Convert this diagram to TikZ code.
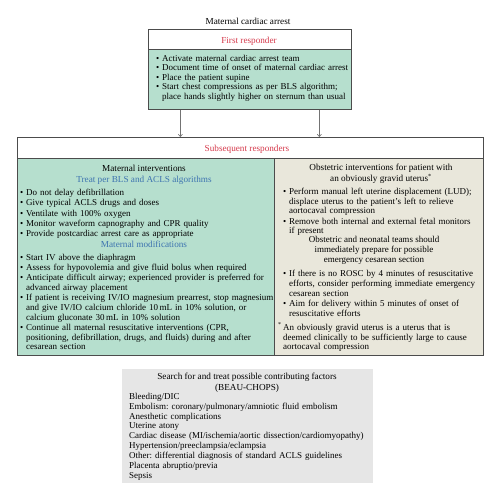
\documentclass[tikz,border=0pt]{standalone}
\usepackage{fontspec}
\setmainfont{Liberation Serif}
\usetikzlibrary{positioning,arrows.meta}

\definecolor{mint}{RGB}{182,223,206}
\definecolor{sand}{RGB}{233,231,219}
\definecolor{fog}{RGB}{230,230,230}
\definecolor{alarm}{RGB}{214,58,76}
\definecolor{steel}{RGB}{62,116,176}

% bullet item with hanging indent
\newlength{\itmgap}
\setlength{\itmgap}{0.3pt}
\newcommand{\itm}[1]{\par\hangindent=6pt\hangafter=1\noindent\makebox[6pt][l]{\textbullet}#1\par\vspace{\itmgap}}

\begin{document}
\frenchspacing
\begin{tikzpicture}[
	x=1pt, y=-1pt,
	box/.style={draw=black!70, line width=0.7pt, anchor=north west, inner sep=0pt},
	txt/.style={inner sep=0pt, font=\fontsize{9}{9.8}\selectfont},
	list/.style={txt, anchor=north west, align=left, text width=#1},
	head/.style={inner sep=0pt, anchor=north, align=center, font=\fontsize{9}{9.7}\selectfont},
	title/.style={inner sep=0pt, anchor=base, font=\fontsize{9.2}{10}\selectfont},
	connect/.style={-{To[length=3pt,width=4.5pt]}, draw=black!55, line width=0.6pt}
	]
	\useasboundingbox (0,0) rectangle (499,500);

	%-----------------------
	% Customizable heights
	%-----------------------
	\def\hfirst{29}   % first responder box
	\def\hsub{137}    % subsequent responders box
	\def\hfog{369}    % contributing factors box

	%-----------------------
	% First responder
	%-----------------------
	\node[title] (arrest) at (248,25) {Maternal cardiac arrest};
	\node[box, fill=white, minimum width=203pt, minimum height=20pt] (firsthead) at (148,\hfirst) {};
	\node[title, text=alarm] (firsttitle) at (249,44) {First responder};
	\node[box, fill=mint, minimum width=203pt, minimum height=60pt] (firstbody) at (148,\hfirst+20) {};
	\node[list=200pt, font=\fontsize{9}{9.5}\selectfont] (firstlist) at (156,51.5) {\setlength{\itmgap}{0pt}%
		\itm{Activate maternal cardiac arrest team}
		\itm{Document time of onset of maternal cardiac arrest}
		\itm{Place the patient supine}
		\itm{Start chest compressions as per BLS algorithm;\newline place hands slightly higher on sternum than usual}};

	%-----------------------
	% Subsequent responders
	%-----------------------
	\node[box, fill=white, minimum width=466pt, minimum height=21pt] (subhead) at (17,\hsub) {};
	\node[title, text=alarm] (subtitle) at (247,151.5) {Subsequent responders};
	\node[box, fill=mint, minimum width=257pt, minimum height=197pt] (maternal) at (17,\hsub+21) {};
	\node[box, fill=sand, minimum width=209pt, minimum height=197pt] (obstetric) at (274,\hsub+21) {};

	% left column: maternal interventions
	\node[title] (matitle) at (144,171) {Maternal interventions};
	\node[title, text=steel] (acls) at (144,182) {Treat per BLS and ACLS algorithms};
	\node[list=260pt] (acllist) at (20,185.8) {%
		\itm{Do not delay defibrillation}
		\itm{Give typical ACLS drugs and doses}
		\itm{Ventilate with 100\% oxygen}
		\itm{Monitor waveform capnography and CPR quality}
		\itm{Provide postcardiac arrest care as appropriate}};
	\node[title, text=steel] (modif) at (144,247.5) {Maternal modifications};
	\node[list=260pt] (modlist) at (20,250.5) {%
		\itm{Start IV above the diaphragm}
		\itm{Assess for hypovolemia and give fluid bolus when required}
		\itm{Anticipate difficult airway; experienced provider is preferred for\newline advanced airway placement}
		\itm{If patient is receiving IV/IO magnesium prearrest, stop magnesium\newline and give IV/IO calcium chloride 10\,mL in 10\% solution, or\newline calcium gluconate 30\,mL in 10\% solution}
		\itm{Continue all maternal resuscitative interventions (CPR,\newline positioning, defibrillation, drugs, and fluids) during and after\newline cesarean section}};

	% right column: obstetric interventions
	\node[head, font=\fontsize{9.2}{9.6}\selectfont] (obtitle) at (381,164.3) {Obstetric interventions for patient with\\an obviously gravid uterus\textsuperscript{*}};
	\node[list=210pt] (obslist) at (283,184.3) {%
		\itm{Perform manual left uterine displacement (LUD);\newline displace uterus to the patient’s left to relieve\newline aortocaval compression}
		\itm{Remove both internal and external fetal monitors\newline if present}};
	\node[head, font=\fontsize{9}{9.8}\selectfont] (teams) at (374,236) {Obstetric and neonatal teams should\\immediately prepare for possible\\emergency cesarean section};
	\node[list=210pt] (roslist) at (283,266.8) {%
		\itm{If there is no ROSC by 4 minutes of resuscitative\newline efforts, consider performing immediate emergency\newline cesarean section}
		\itm{Aim for delivery within 5 minutes of onset of\newline resuscitative efforts}};
	\node[list=210pt, font=\fontsize{9}{9.6}\selectfont] (gravid) at (283,322.8) {%
		\llap{\textsuperscript{*}\,}An obviously gravid uterus is a uterus that is\\deemed clinically to be sufficiently large to cause\\aortocaval compression};

	%-----------------------
	% Contributing factors
	%-----------------------
	\node[box, draw=none, fill=fog, minimum width=251pt, minimum height=114pt] (factors) at (122,\hfog) {};
	\node[head, font=\fontsize{9.2}{11}\selectfont] (search) at (247,373.3) {Search for and treat possible contributing factors\\(BEAU-CHOPS)};
	\node[list=250pt, font=\fontsize{9}{9.85}\selectfont] (beau) at (129,393) {%
		Bleeding/DIC\\
		Embolism: coronary/pulmonary/amniotic fluid embolism\\
		Anesthetic complications\\
		Uterine atony\\
		Cardiac disease (MI/ischemia/aortic dissection/cardiomyopathy)\\
		Hypertension/preeclampsia/eclampsia\\
		Other: differential diagnosis of standard ACLS guidelines\\
		Placenta abruptio/previa\\
		Sepsis};

	%-----------------------
	% Connections
	%-----------------------
	\draw[connect] ([xshift=-69.5pt]firstbody.south) -- ([xshift=-69.5pt]firstbody.south |- subhead.north);
	\draw[connect] ([xshift=69.5pt]firstbody.south) -- ([xshift=69.5pt]firstbody.south |- subhead.north);

\end{tikzpicture}
\end{document}
